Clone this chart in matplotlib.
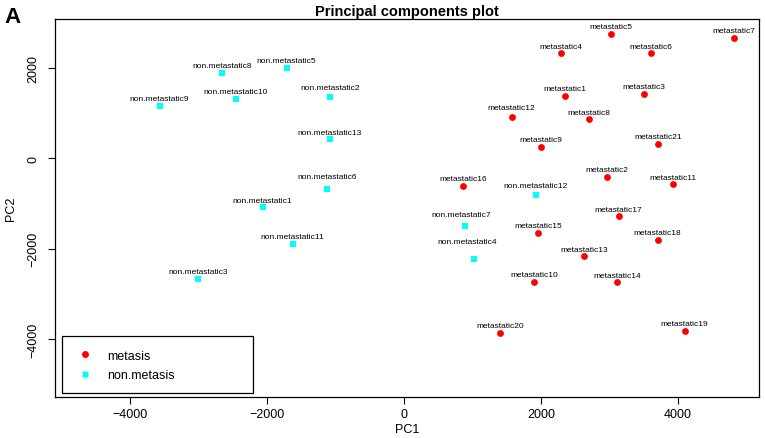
import matplotlib
matplotlib.use("Agg")
import matplotlib.pyplot as plt
from matplotlib.lines import Line2D
from matplotlib.patches import Rectangle

plt.rcParams['font.family'] = ['Liberation Sans', 'DejaVu Sans']

# PCA scores
met_names = ["metastatic1", "metastatic2", "metastatic3", "metastatic4", "metastatic5",
             "metastatic6", "metastatic7", "metastatic8", "metastatic9", "metastatic10",
             "metastatic11", "metastatic12", "metastatic13", "metastatic14", "metastatic15",
             "metastatic16", "metastatic17", "metastatic18", "metastatic19", "metastatic20",
             "metastatic21"]
met_pc1 = [2350, 2964, 3499, 2292, 3022, 3601, 4818, 2696, 2000, 1898,
           3932, 1572, 2632, 3114, 1956, 861, 3134, 3703, 4097, 1401, 3708]
met_pc2 = [1389, -404, 1433, 2322, 2763, 2330, 2668, 860, 257, -2734,
           -573, 919, -2168, -2749, -1646, -610, -1279, -1800, -3815, -3859, 323]

non_names = ["non.metastatic1", "non.metastatic2", "non.metastatic3", "non.metastatic4",
             "non.metastatic5", "non.metastatic6", "non.metastatic7", "non.metastatic8",
             "non.metastatic9", "non.metastatic10", "non.metastatic11", "non.metastatic12",
             "non.metastatic13"]
non_pc1 = [-2058, -1080, -3007, 1022, -1708, -1124, 890, -2657, -3562, -2453,
           -1620, 1923, -1080]
non_pc2 = [-1080, 1367, -2668, -2234, 2007, -684, -1492, 1896, 1169, 1323,
           -1896, -816, 419]

# labels that sit a bit further from their point (pixels)
nudge = {"non.metastatic4": (-7, 18), "non.metastatic6": (0, 13), "non.metastatic7": (-4, 11),
         "non.metastatic12": (0, 10), "metastatic12": (0, 9), "non.metastatic2": (0, 9)}

fig = plt.figure(figsize=(7.65, 4.39), dpi=100)
ax = fig.add_axes([0.0719, 0.0941, 0.9206, 0.8603])

ax.scatter(met_pc1, met_pc2, s=24, c="#FF0000", marker="o", linewidths=0, zorder=3)
ax.scatter(non_pc1, non_pc2, s=18, c="#00FFFF", marker="s", linewidths=0, zorder=3)

for names, xs, ys in [(met_names, met_pc1, met_pc2), (non_names, non_pc1, non_pc2)]:
    for n, x, y in zip(names, xs, ys):
        dx, dy = nudge.get(n, (0, 7))
        ax.annotate(n, (x, y), xytext=(dx, dy), textcoords="offset pixels",
                    ha="center", va="center", fontsize=6)

ax.set_xlim(-5088, 5186)
ax.set_ylim(-5278, 3084)
ax.set_xticks([-4000, -2000, 0, 2000, 4000])
ax.set_yticks([-4000, -2000, 0, 2000])
ax.tick_params(direction="out", length=5, width=0.8, labelsize=9)
ax.tick_params(axis="x", pad=3)
ax.tick_params(axis="y", pad=6)
for lab in ax.get_yticklabels():
    lab.set_rotation(90)
    lab.set_va("center")
for sp in ax.spines.values():
    sp.set_linewidth(0.9)

ax.set_xlabel("PC1", fontsize=9, labelpad=2)
ax.set_ylabel("PC2", fontsize=9, labelpad=8)
ax.set_title("Principal components plot", fontsize=10.5, fontweight="bold", pad=3)
fig.text(0.006, 1 - 23 / 439, "A", fontsize=16, fontweight="bold", va="baseline")

# legend box drawn like base R
ax.add_patch(Rectangle((0.0095, 0.0098), 0.271, 0.150, transform=ax.transAxes,
                       fill=False, edgecolor="black", linewidth=0.9, zorder=4))
handles = [Line2D([], [], ls="", marker="o", ms=5, mfc="#FF0000", mec="none"),
           Line2D([], [], ls="", marker="s", ms=4.5, mfc="#00FFFF", mec="none")]
ax.legend(handles, ["metasis", "non.metasis"], loc="upper left",
          bbox_to_anchor=(0.0337, 0.1244), frameon=False, fontsize=9,
          handlelength=1.0, handletextpad=1.3, labelspacing=0.6, borderpad=0,
          borderaxespad=0)

fig.savefig("out.png", dpi=100)
